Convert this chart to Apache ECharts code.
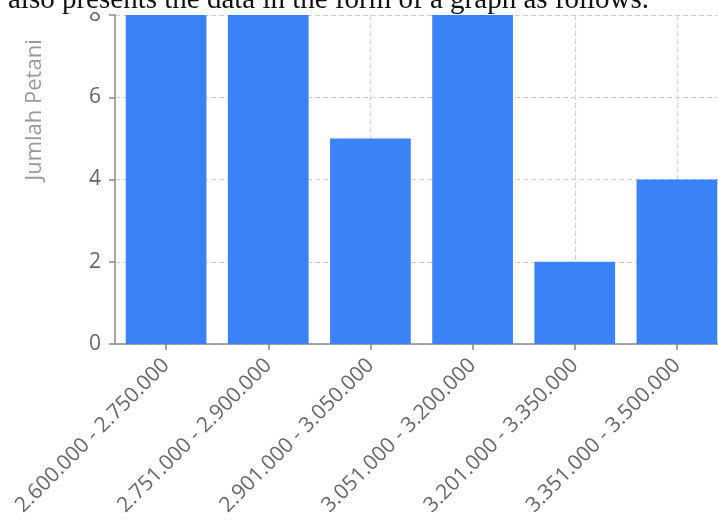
<!DOCTYPE html>
<html>
<head>
<meta charset="utf-8">
<script src="https://cdn.jsdelivr.net/npm/echarts@6/dist/echarts.min.js"></script>
<style>
  html, body { margin: 0; padding: 0; background: #fff; overflow: hidden; width: 718px; height: 524px; }
  /* the plot runs a little past the right edge of the page */
  #chart { width: 740px; height: 524px; }
</style>
</head>
<body>
<div id="chart"></div>
<script>
// Income ranges (Rupiah) and number of farmers in each range
const categories = [
  '2.600.000 - 2.750.000',
  '2.751.000 - 2.900.000',
  '2.901.000 - 3.050.000',
  '3.051.000 - 3.200.000',
  '3.201.000 - 3.350.000',
  '3.351.000 - 3.500.000'
];
const farmerCounts = [8, 8, 5, 8, 2, 4];
const yTicks = [0, 2, 4, 6, 8];
const leadText = 'also presents the data in the form of a graph as follows.';
const yAxisTitle = 'Jumlah Petani';

const chart = echarts.init(document.getElementById('chart'), null, { renderer: 'canvas' });

const gridColor = '#d2d2d2';
const axisColor = '#8a8a8a';
const labelColor = '#686868';
const font = '"Open Sans", sans-serif';

chart.setOption({
  animation: false,
  backgroundColor: '#ffffff',
  grid: { left: 115, right: 12, top: 15, bottom: 180, containLabel: false },
  xAxis: {
    type: 'category',
    data: categories,
    axisLine: { show: true, lineStyle: { color: axisColor, width: 1.5 } },
    axisTick: { show: true, alignWithLabel: true, length: 6, lineStyle: { color: axisColor, width: 1.5 } },
    axisLabel: {
      rotate: 45, margin: 18, color: labelColor,
      fontFamily: font, fontSize: 21, interval: 0
    },
    splitLine: { show: true, alignWithLabel: true, lineStyle: { color: gridColor, type: [5, 3], width: 1.2 } }
  },
  yAxis: {
    type: 'value',
    min: yTicks[0],
    max: yTicks[yTicks.length - 1],
    interval: yTicks[1] - yTicks[0],
    axisLine: { show: true, lineStyle: { color: axisColor, width: 1.5 } },
    axisTick: { show: true, length: 6, lineStyle: { color: axisColor, width: 1.5 } },
    axisLabel: { margin: 14, color: labelColor, fontFamily: font, fontSize: 21 },
    splitLine: { show: true, lineStyle: { color: gridColor, type: [5, 3], width: 1.2 } }
  },
  series: [{
    type: 'bar',
    data: farmerCounts,
    barCategoryGap: '21%',
    itemStyle: { color: '#3b82f6' },
    z: 3
  }],
  graphic: [
    {
      type: 'text',
      x: 35, y: 110,
      rotation: Math.PI / 2,
      style: {
        text: yAxisTitle,
        fill: '#9a9a9a',
        font: '22px "Open Sans", sans-serif',
        textAlign: 'center',
        textVerticalAlign: 'middle'
      }
    },
    {
      type: 'rect',
      shape: { x: 0, y: 0, width: 740, height: 12 },
      style: { fill: '#ffffff' },
      z: 100
    },
    {
      type: 'text',
      x: 8, y: -14,
      z: 101,
      style: {
        text: leadText,
        fill: '#111111',
        font: '29px "Liberation Serif", "Times New Roman", serif',
        textAlign: 'left',
        textVerticalAlign: 'top'
      }
    }
  ]
});
</script>
</body>
</html>
